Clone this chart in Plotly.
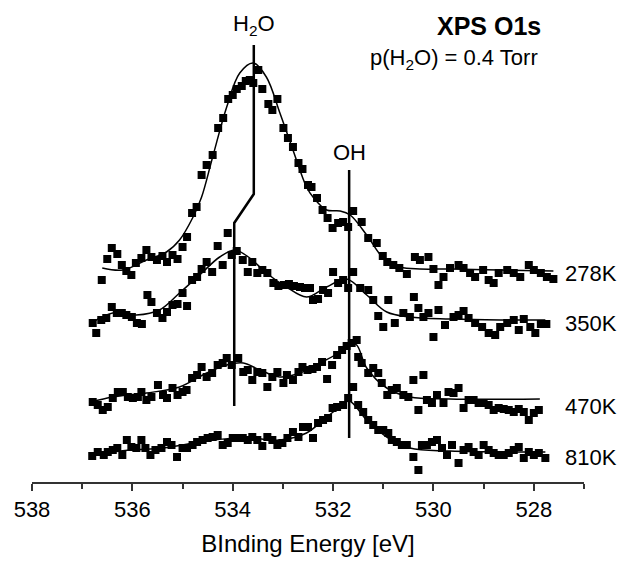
import plotly.graph_objects as go

# ---- O1s spectra at four temperatures (binding energy in eV, intensity in arb. units, stacked) ----
e_278 = [536.61, 536.50, 536.41, 536.30, 536.21, 536.12, 536.02, 535.93, 535.82, 535.72, 535.62, 535.51,
         535.40, 535.31, 535.20, 535.10, 535.00, 534.91, 534.81, 534.72, 534.62, 534.52, 534.40, 534.29,
         534.19, 534.09, 534.00, 533.92, 533.82, 533.74, 533.66, 533.59, 533.49, 533.41, 533.29, 533.21,
         533.11, 532.99, 532.90, 532.80, 532.69, 532.61, 532.50, 532.43, 532.32, 532.21, 532.11, 532.01,
         531.90, 531.80, 531.70, 531.60, 531.43, 531.30, 531.13, 531.01, 530.92, 530.80, 530.68, 530.53,
         530.37, 530.27, 530.10, 530.00, 529.90, 529.80, 529.67, 529.50, 529.40, 529.27, 529.17, 529.01,
         528.90, 528.80, 528.70, 528.53, 528.40, 528.27, 528.10, 528.00, 527.86, 527.74, 527.61]
i_278 = [202, 223, 234, 228, 217, 211, 207, 219, 224, 232, 225, 222,
         226, 220, 227, 223, 235, 245, 269, 275, 307, 317, 327, 354,
         364, 383, 387, 393, 396, 401, 402, 399, 412, 393, 378, 372,
         383, 354, 344, 335, 319, 313, 297, 295, 284, 272, 264, 254,
         259, 260, 255, 271, 260, 244, 239, 226, 220, 217, 214, 208,
         225, 222, 225, 213, 197, 205, 214, 217, 214, 209, 205, 212,
         202, 199, 209, 212, 209, 205, 217, 212, 209, 205, 203]

e_350 = [536.79, 536.72, 536.62, 536.52, 536.41, 536.31, 536.21, 536.12, 536.01, 535.91, 535.81, 535.70,
         535.62, 535.51, 535.40, 535.31, 535.20, 535.10, 535.00, 534.91, 534.81, 534.71, 534.62, 534.52,
         534.41, 534.30, 534.20, 534.10, 534.02, 533.92, 533.80, 533.70, 533.61, 533.51, 533.41, 533.31,
         533.19, 533.09, 532.98, 532.88, 532.78, 532.66, 532.56, 532.46, 532.40, 532.30, 532.20, 532.10,
         532.00, 531.90, 531.80, 531.70, 531.60, 531.46, 531.30, 531.20, 531.10, 531.00, 530.90, 530.77,
         530.60, 530.47, 530.39, 530.30, 530.20, 530.10, 530.00, 529.90, 529.77, 529.60, 529.50, 529.40,
         529.30, 529.17, 529.03, 528.90, 528.77, 528.67, 528.53, 528.40, 528.30, 528.20, 528.07, 527.97,
         527.86, 527.75]
i_350 = [159, 149, 162, 164, 175, 169, 169, 167, 165, 159, 158, 187,
         180, 169, 164, 170, 177, 178, 189, 176, 202, 205, 213, 220,
         210, 236, 217, 249, 227, 231, 222, 210, 220, 209, 212, 209,
         199, 196, 197, 198, 196, 195, 194, 194, 182, 183, 192, 189,
         210, 199, 202, 194, 210, 194, 192, 182, 166, 155, 182, 159,
         169, 165, 185, 174, 165, 169, 145, 172, 157, 165, 167, 171,
         164, 159, 155, 149, 147, 155, 159, 162, 152, 163, 155, 149,
         158, 158]

e_470 = [536.79, 536.69, 536.59, 536.49, 536.39, 536.29, 536.19, 536.09, 535.99, 535.89, 535.82, 535.72,
         535.62, 535.49, 535.39, 535.31, 535.20, 535.10, 535.00, 534.92, 534.81, 534.71, 534.62, 534.52,
         534.41, 534.30, 534.20, 534.12, 534.02, 533.89, 533.79, 533.70, 533.61, 533.51, 533.41, 533.31,
         533.21, 533.11, 532.99, 532.92, 532.80, 532.69, 532.61, 532.51, 532.41, 532.32, 532.22, 532.12,
         532.02, 531.92, 531.82, 531.73, 531.63, 531.53, 531.50, 531.43, 531.30, 531.20, 531.10, 531.03,
         530.92, 530.83, 530.73, 530.60, 530.50, 530.40, 530.30, 530.20, 530.13, 530.03, 529.93, 529.80,
         529.70, 529.60, 529.50, 529.40, 529.30, 529.20, 529.10, 529.00, 528.90, 528.80, 528.70, 528.60,
         528.50, 528.40, 528.30, 528.20, 528.10, 528.00, 527.90]
i_470 = [80, 77, 72, 75, 84, 90, 90, 85, 84, 85, 90, 82,
         85, 97, 87, 84, 94, 87, 90, 92, 104, 107, 115, 105,
         109, 117, 119, 124, 117, 124, 110, 112, 102, 110, 109, 95,
         105, 110, 99, 107, 102, 110, 115, 112, 113, 115, 120, 103,
         117, 127, 132, 136, 139, 142, 125, 119, 109, 114, 109, 99,
         87, 92, 94, 87, 85, 102, 72, 107, 82, 79, 87, 79,
         90, 89, 94, 74, 82, 82, 79, 79, 77, 72, 74, 73,
         72, 70, 73, 70, 62, 69, 72]

e_810 = [536.80, 536.69, 536.57, 536.49, 536.39, 536.30, 536.20, 536.11, 536.02, 535.92, 535.82, 535.74,
         535.64, 535.54, 535.42, 535.31, 535.22, 535.11, 535.00, 534.91, 534.80, 534.71, 534.60, 534.50,
         534.40, 534.30, 534.20, 534.10, 534.00, 533.90, 533.80, 533.70, 533.61, 533.51, 533.41, 533.31,
         533.21, 533.11, 533.01, 532.91, 532.80, 532.69, 532.60, 532.50, 532.40, 532.30, 532.20, 532.10,
         532.01, 531.92, 531.80, 531.70, 531.60, 531.50, 531.40, 531.30, 531.20, 531.10, 531.00, 530.90,
         530.83, 530.73, 530.63, 530.53, 530.40, 530.30, 530.23, 530.13, 530.03, 529.93, 529.83, 529.73,
         529.63, 529.50, 529.40, 529.30, 529.20, 529.10, 529.00, 528.90, 528.80, 528.70, 528.60, 528.50,
         528.40, 528.30, 528.20, 528.10, 528.00, 527.90, 527.77]
i_810 = [26, 30, 27, 30, 32, 34, 27, 42, 35, 34, 42, 34,
         27, 32, 34, 40, 37, 25, 34, 34, 37, 40, 42, 44,
         45, 47, 37, 39, 44, 44, 44, 42, 45, 42, 36, 45,
         42, 37, 39, 44, 50, 45, 55, 55, 44, 59, 62, 64,
         74, 75, 77, 84, 95, 77, 70, 62, 57, 52, 52, 49,
         42, 40, 37, 37, 25, 12, 37, 37, 40, 42, 34, 27,
         37, 19, 32, 35, 30, 27, 37, 32, 29, 27, 27, 29,
         32, 35, 24, 30, 27, 29, 24]

# ---- peak-fit envelopes ----
fe_278 = [536.60, 536.19, 535.72, 535.32, 535.06, 534.79, 534.62, 534.40, 534.12, 533.86, 533.59, 533.33,
          533.06, 532.80, 532.53, 532.40, 532.13, 531.86, 531.66, 531.33, 531.00, 530.66, 530.27, 529.67,
          528.67, 527.61]
fi_278 = [214, 212, 222, 230, 242, 265, 285, 325, 375, 409, 419, 405,
          369, 332, 295, 285, 272, 271, 267, 247, 224, 215, 213, 213,
          212, 211]

fe_350 = [536.82, 536.39, 535.92, 535.46, 535.06, 534.66, 534.26, 533.96, 533.66, 533.33, 532.93, 532.53,
          532.13, 531.73, 531.33, 530.93, 530.47, 529.67, 528.67, 527.77]
fi_350 = [159, 169, 167, 172, 189, 207, 225, 232, 224, 209, 195, 185,
          195, 203, 187, 170, 165, 163, 162, 162]

fe_470 = [536.82, 536.39, 535.72, 535.06, 534.52, 534.12, 533.79, 533.46, 533.06, 532.66, 532.26, 531.86,
          531.66, 531.53, 531.33, 530.93, 530.47, 529.67, 527.88]
fi_470 = [80, 85, 89, 95, 109, 117, 119, 112, 105, 109, 119, 130,
          139, 137, 114, 94, 85, 83, 83]

fe_810 = [536.82, 536.05, 535.39, 534.39, 533.72, 533.06, 532.53, 532.13, 531.86, 531.68, 531.33, 530.93,
          530.47, 529.67, 527.77]
fi_810 = [27, 32, 34, 42, 44, 42, 49, 65, 75, 81, 62, 45,
          34, 31, 30]

# ---- component position markers ----
h2o_e = [533.58, 533.58, 533.97, 533.97]
h2o_i = [437, 288, 259, 76]
oh_e = [531.68, 531.68]
oh_i = [312, 44]

temps = ["278K", "350K", "470K", "810K"]
temp_label_i = [209, 159, 76, 25]

x_ticks = [538, 536, 534, 532, 530, 528]

FONT = "Liberation Sans, Arial, sans-serif"
INK = "black"

fig = go.Figure()

spectra = [(e_278, i_278), (e_350, i_350), (e_470, i_470), (e_810, i_810)]
fits = [(fe_278, fi_278), (fe_350, fi_350), (fe_470, fi_470), (fe_810, fi_810)]

for (fe, fi) in fits:
    fig.add_trace(go.Scatter(x=fe, y=fi, mode="lines",
                             line=dict(color=INK, width=1.5, shape="spline", smoothing=1.0),
                             hoverinfo="skip", showlegend=False))

for (e, i) in spectra:
    fig.add_trace(go.Scatter(x=e, y=i, mode="markers",
                             marker=dict(symbol="square", size=8, color=INK, line=dict(width=0)),
                             showlegend=False))

for (le, li) in [(h2o_e, h2o_i), (oh_e, oh_i)]:
    fig.add_trace(go.Scatter(x=le, y=li, mode="lines", line=dict(color=INK, width=2.5),
                             hoverinfo="skip", showlegend=False))

annotations = [
    dict(x=h2o_e[0], y=457, xref="x", yref="y", text="H<sub>2</sub>O", showarrow=False,
         font=dict(size=22, color=INK, family=FONT), xanchor="center", yanchor="middle"),
    dict(x=oh_e[0], y=330, xref="x", yref="y", text="OH", showarrow=False,
         font=dict(size=22, color=INK, family=FONT), xanchor="center", yanchor="middle"),
    dict(x=0.9257, y=0.946, xref="paper", yref="paper", text="<b>XPS O1s</b>", showarrow=False,
         font=dict(size=25, color=INK, family=FONT), xanchor="right", yanchor="middle"),
    dict(x=0.9203, y=0.8776, xref="paper", yref="paper", text="p(H<sub>2</sub>O) = 0.4 Torr",
         showarrow=False, font=dict(size=22, color=INK, family=FONT), xanchor="right", yanchor="middle"),
]
for t, yi in zip(temps, temp_label_i):
    annotations.append(dict(x=0.962, y=yi, xref="paper", yref="y", text=t, showarrow=False,
                            font=dict(size=22, color=INK, family=FONT),
                            xanchor="left", yanchor="middle"))

fig.update_layout(
    width=621, height=562,
    margin=dict(l=32, r=37, t=0, b=80),
    paper_bgcolor="white", plot_bgcolor="white",
    font=dict(family=FONT, color=INK),
    annotations=annotations,
    xaxis=dict(
        range=[538, 527], tickvals=x_ticks, ticktext=[str(v) for v in x_ticks],
        ticks="outside", ticklen=7, tickwidth=1.5, tickcolor="#333",
        minor=dict(dtick=1, ticks="outside", ticklen=5, tickwidth=1.5, tickcolor="#333"),
        showline=True, linecolor="#333", linewidth=1.5,
        showgrid=False, zeroline=False,
        tickfont=dict(size=22, color=INK, family=FONT),
        title=dict(text="BInding Energy [eV]", font=dict(size=24, color=INK, family=FONT), standoff=14),
    ),
    yaxis=dict(range=[0, 482], visible=False, showgrid=False, zeroline=False),
)

fig.write_html("out.html")
